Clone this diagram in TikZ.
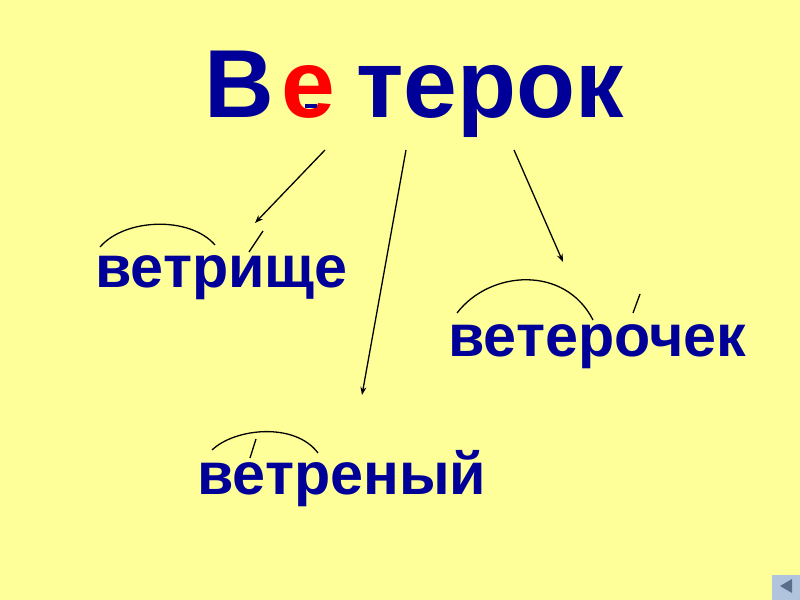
\documentclass[tikz,border=0pt]{standalone}
\usepackage{fontspec}
\setmainfont{Liberation Sans}
\usetikzlibrary{arrows.meta}
\definecolor{bgyellow}{RGB}{255,255,153}
\definecolor{wordblue}{RGB}{0,0,153}
\definecolor{btngray}{RGB}{176,196,222}
\definecolor{btndark}{RGB}{90,110,140}

\begin{document}
\begin{tikzpicture}[x=1bp,y=-1bp,
    headword/.style={font=\bfseries\fontsize{97}{97}\selectfont, text=wordblue, inner sep=0pt, anchor=base west},
    word/.style={font=\bfseries\fontsize{59.5}{60}\selectfont, text=wordblue, inner sep=0pt, anchor=base west},
    link/.style={black, line width=1.3bp, -{Stealth[length=8bp,width=6bp]}},
    rootline/.style={black, line width=1.3bp}]
    \fill[bgyellow] (0,0) rectangle (800,600);

    \node[headword] (tB) at (204,118) {В};
    \node[headword, text=red] (tE) at (281,118) {е};
    \node[headword] (tRest) at (356,118) {терок};
    \fill[wordblue] (305,104) rectangle (317,108);

    \node[word] (w1) at (95,287) {ветрище};
    \node[word] (w2) at (448,356) {ветерочек};
    \node[word] (w3) at (197,494) {ветреный};

    \coordinate (s1) at (325,150);
    \coordinate (s2) at (406,150);
    \coordinate (s3) at (514,150);
    \coordinate (e1) at (255,223);
    \coordinate (e2) at (362,395);
    \coordinate (e3) at (563,262);
    \draw[link] (s1) -- (e1);
    \draw[link] (s2) -- (e2);
    \draw[link] (s3) -- (e3);

    \draw[rootline] (100,247) .. controls (125,218) and (190,216) .. (215,245);
    \draw[rootline] (249,252) -- (263,231);

    \draw[rootline] (457,313) .. controls (490,270) and (565,265) .. (593,320);
    \draw[rootline] (633,313) -- (640,294);

    \draw[rootline] (212,450) .. controls (235,428) and (295,422) .. (318,453);
    \draw[rootline] (250,458) -- (256,439);

    \fill[btngray] (772,575) rectangle (800,600);
    \fill[btndark] (780,586) -- (792,579) -- (792,593) -- cycle;
\end{tikzpicture}
\end{document}
